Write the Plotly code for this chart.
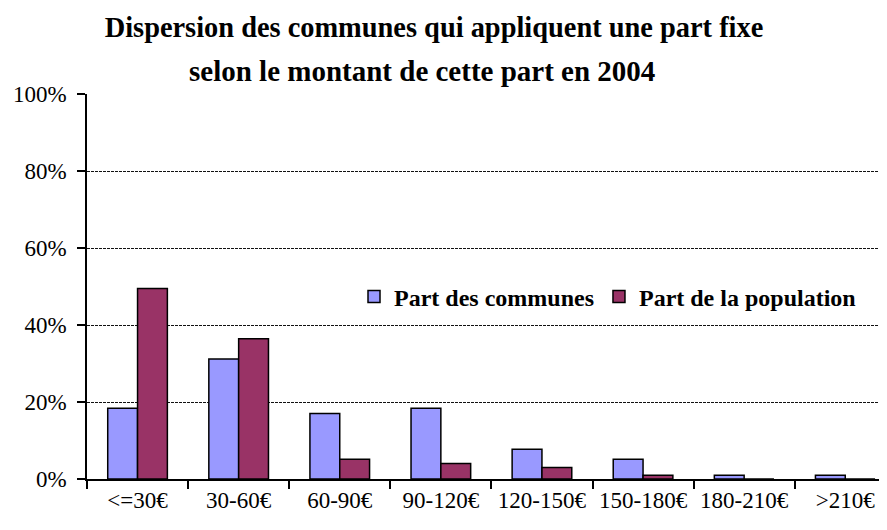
import plotly.graph_objects as go

categories = ["<=30€", "30-60€", "60-90€", "90-120€", "120-150€", "150-180€", "180-210€", ">210€"]
part_communes = [0.184, 0.312, 0.17, 0.184, 0.077, 0.051, 0.01, 0.01]
part_population = [0.495, 0.364, 0.051, 0.04, 0.03, 0.01, 0.0, 0.0]
y_ticks = [0, 0.2, 0.4, 0.6, 0.8, 1.0]
y_tick_labels = ["0%", "20%", "40%", "60%", "80%", "100%"]

FONT = "Liberation Serif"

# page body has an 8px margin: layout numbers below compensate for it
OFF = 8
W, H = 887, 530
ML, MT, MB = 87 - OFF, 94 - OFF, H - (479 - OFF)
PW = W - ML  # plot width in px (right edge is clipped by the window)
PH = 479 - 94

fig = go.Figure()
fig.add_trace(go.Bar(
    x=categories, y=part_communes, name="<b>Part des communes</b>",
    marker=dict(color="#9999FF", line=dict(color="black", width=1.5)),
))
fig.add_trace(go.Bar(
    x=categories, y=part_population, name="<b>Part de la population</b>",
    marker=dict(color="#993366", line=dict(color="black", width=1.5)),
))

fig.update_layout(
    width=W, height=H,
    margin=dict(l=ML, r=0, t=MT, b=MB, autoexpand=False),
    paper_bgcolor="white", plot_bgcolor="white",
    barmode="group", bargap=0.41, bargroupgap=0,
    font=dict(family=FONT, color="black", size=23),
    title=dict(
        text="<b>Dispersion des communes qui appliquent une part fixe</b>",
        x=(434 - OFF) / W, xanchor="center", y=1 - (27 - OFF) / H, yanchor="middle",
        yref="container", font=dict(family=FONT, size=28.4, color="black"),
    ),
    annotations=[dict(
        text="<b>selon le montant de cette part en 2004</b>",
        xref="paper", yref="paper", x=(422 - 87) / PW, y=(479 - 71) / PH,
        xanchor="center", yanchor="middle", showarrow=False,
        font=dict(family=FONT, size=29, color="black"),
    )],
    legend=dict(
        orientation="h", x=(354 - 87) / PW, xanchor="left",
        y=(479 - 297) / PH, yanchor="middle",
        bgcolor="rgba(0,0,0,0)", font=dict(family=FONT, size=24, color="black"),
        traceorder="normal", itemclick=False,
    ),
    showlegend=True,
)
fig.update_xaxes(
    type="category", range=[-0.5, -0.5 + PW / 101.1], tickson="boundaries",
    ticks="outside", ticklen=8, tickcolor="black", tickwidth=1.5,
    showline=True, linecolor="black", linewidth=1.5, showgrid=False,
    automargin=False,
    tickfont=dict(family=FONT, size=23, color="black"), fixedrange=True,
)
fig.update_yaxes(
    range=[0, 1], tickvals=y_ticks, ticktext=y_tick_labels,
    ticks="outside", ticklen=8, tickcolor="black", tickwidth=1.5,
    showline=True, linecolor="black", linewidth=1.5,
    showgrid=True, gridcolor="#111111", gridwidth=1, griddash="3px,1px",
    zeroline=False, ticklabelstandoff=6, automargin=False,
    tickfont=dict(family=FONT, size=23, color="black"), fixedrange=True,
)

fig.write_html("out.html")
